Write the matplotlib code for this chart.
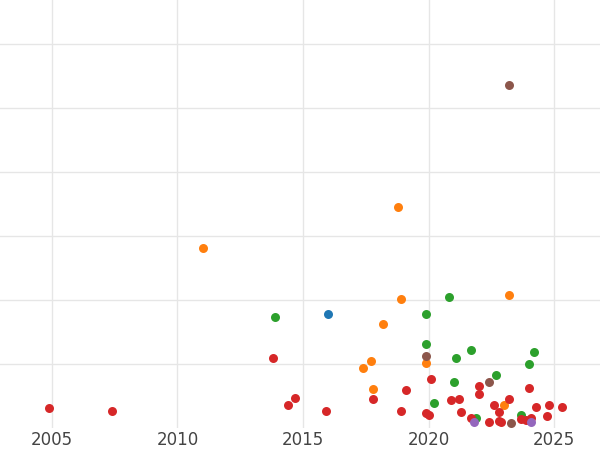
import matplotlib.pyplot as plt

# year, value per colour group
red_x = [2004.9, 2007.4, 2013.8, 2014.4, 2014.7, 2015.9, 2017.8, 2018.9, 2019.1, 2019.9, 2020.0,
         2020.1, 2020.9, 2021.2, 2021.3, 2021.7, 2022.0, 2022.0, 2022.4, 2022.6, 2022.8, 2022.8,
         2022.9, 2023.2, 2023.7, 2023.9, 2024.0, 2024.1, 2024.3, 2024.7, 2024.8, 2025.3]
red_y = [3.1, 2.7, 10.9, 3.6, 4.7, 2.7, 4.5, 2.7, 5.9, 2.3, 2.0,
         7.7, 4.4, 4.5, 2.5, 1.6, 6.6, 5.3, 0.9, 3.6, 2.5, 1.1,
         0.9, 4.5, 1.4, 1.25, 6.25, 1.6, 3.3, 1.9, 3.6, 3.3]
orange_x = [2011.0, 2018.8, 2018.9, 2018.2, 2017.7, 2017.4, 2017.8, 2019.9, 2023.2, 2023.0]
orange_y = [28.1, 34.5, 20.2, 16.25, 10.5, 9.4, 6.1, 10.2, 20.8, 3.6]
green_x = [2013.9, 2019.9, 2020.8, 2019.9, 2021.1, 2021.7, 2021.0, 2020.2, 2022.7, 2021.9,
           2024.0, 2024.2, 2023.7]
green_y = [17.3, 17.8, 20.5, 13.1, 10.9, 12.2, 7.2, 3.9, 8.3, 1.6, 10.0, 11.9, 2.0]
blue_x = [2016.0]
blue_y = [17.8]
brown_x = [2023.2, 2019.9, 2022.4, 2023.3]
brown_y = [53.6, 11.25, 7.2, 0.8]
purple_x = [2021.8, 2024.1]
purple_y = [0.9, 0.9]

fig = plt.figure(figsize=(6, 4.5), dpi=100)
ax = fig.add_axes([0, 22 / 450, 1, 428 / 450])

groups = [
    (blue_x, blue_y, '#1f77b4'),
    (orange_x, orange_y, '#ff7f0e'),
    (green_x, green_y, '#2ca02c'),
    (red_x, red_y, '#d62728'),
    (purple_x, purple_y, '#9467bd'),
    (brown_x, brown_y, '#8c564b'),
]
for xs, ys, c in groups:
    ax.scatter(xs, ys, s=42, color=c, zorder=3, linewidths=0)

ax.set_xlim(2002.93, 2026.83)
ax.set_ylim(0, 66.9)
ax.set_xticks([2005, 2010, 2015, 2020, 2025])
ax.set_yticks([10, 20, 30, 40, 50, 60])
ax.set_yticklabels([])
ax.tick_params(axis='both', length=0)
ax.tick_params(axis='x', labelsize=12, colors='#444444', pad=2)
ax.grid(True, color='#e6e6e6', linewidth=1)
ax.set_axisbelow(True)
for s in ax.spines.values():
    s.set_visible(False)

fig.savefig('out.png', dpi=100)
